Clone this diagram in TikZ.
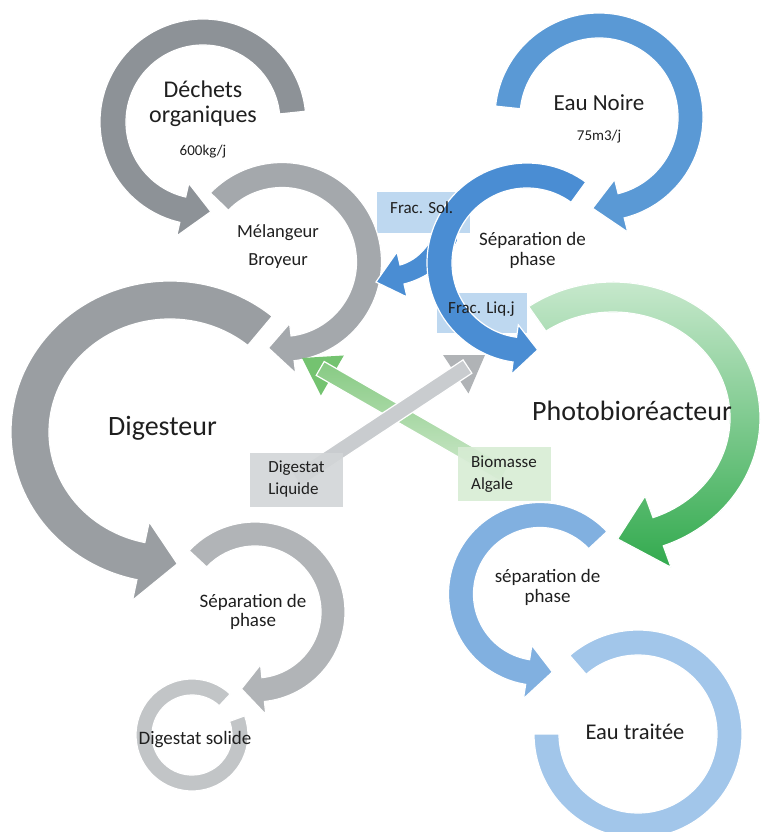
\documentclass[tikz,border=0pt]{standalone}
\usepackage{fontspec}
\setmainfont{Carlito}
\usetikzlibrary{calc}

\definecolor{greyA}{RGB}{141,146,151}
\definecolor{greyB}{RGB}{164,168,172}
\definecolor{greyC}{RGB}{154,158,162}
\definecolor{greyD}{RGB}{177,180,183}
\definecolor{greyE}{RGB}{194,197,199}
\definecolor{blueA}{RGB}{90,153,213}
\definecolor{blueB}{RGB}{74,141,211}
\definecolor{blueC}{RGB}{129,176,224}
\definecolor{blueD}{RGB}{162,198,234}
\definecolor{greenA}{RGB}{208,236,212}
\definecolor{greenB}{RGB}{50,170,78}
\definecolor{fracbox}{RGB}{190,216,240}
\definecolor{liqbox}{RGB}{210,213,215}
\definecolor{algbox}{RGB}{215,236,212}
\definecolor{liqshaft}{RGB}{201,204,207}
\definecolor{liqhead}{RGB}{176,179,182}
\definecolor{algshaft}{RGB}{178,219,174}
\definecolor{alghead}{RGB}{116,195,112}

% circular band with head: centre, x/y mid radius, half band, tail angle, band end, tip angle, head half width, options
\newcommand{\ringarrow}[9]{%
  \pgfmathsetmacro{\rxo}{#2+#4}\pgfmathsetmacro{\ryo}{#3+#4}%
  \pgfmathsetmacro{\rxi}{#2-#4}\pgfmathsetmacro{\ryi}{#3-#4}%
  \pgfmathsetmacro{\rxh}{#2+#8}\pgfmathsetmacro{\ryh}{#3+#8}%
  \pgfmathsetmacro{\rxl}{#2-#8}\pgfmathsetmacro{\ryl}{#3-#8}%
  \path[#9] ($(#1)+(#5:{\rxo} and {\ryo})$)
    arc[start angle=#5, end angle=#6, x radius=\rxo, y radius=\ryo]
    -- ($(#1)+(#6:{\rxh} and {\ryh})$) -- ($(#1)+(#7:{#2} and {#3})$)
    -- ($(#1)+(#6:{\rxl} and {\ryl})$) -- ($(#1)+(#6:{\rxi} and {\ryi})$)
    arc[start angle=#6, end angle=#5, x radius=\rxi, y radius=\ryi] -- cycle;
}

\begin{document}
\begin{tikzpicture}[x=1pt, y=1pt, yscale=-1,
    ringpart/.style={fill=#1, draw=white, line width=1.2pt},
    greenshade/.style={top color=greenA, bottom color=greenB},
    lbl/.style 2 args={font=\fontsize{#1}{#2}\selectfont, align=center, text=black!88, inner sep=0pt},
    tag/.style={font=\fontsize{17}{22}\selectfont, align=left, text=black!88, inner sep=0pt},
    tagbox/.style={fill=#1, fill opacity=0.9, text opacity=1, minimum width=93pt, minimum height=54pt}
  ]
  \useasboundingbox (0,0) rectangle (761,832);

  \coordinate (csolid) at (192,735);
  \coordinate (csepL) at (255,612);
  \coordinate (cdig) at (170,432);
  \coordinate (cdech) at (203,122);
  \coordinate (cmel) at (282,262);
  \coordinate (ctrait) at (638,734);
  \coordinate (csepR) at (540,594);
  \coordinate (cnoire) at (599,117);
  \coordinate (cphoto) at (613,418);
  \coordinate (csepT) at (527,263);

  % boxes under the blue arc
  \fill[fracbox] (377,192) rectangle (470,233);
  \fill[fracbox] (437,293) rectangle (527,333);

  \foreach \ctr/\rx/\ry/\bw/\ta/\tb/\tc/\hw/\col in {
      csolid/48/48/8/-20/313/313/8/greyE,
      csepL/78/78/12/-137/84/100/25/greyD,
      cdig/140/132/19/-50/-258/-273/40/greyC,
      cdech/90/90/13/-6/-257/-275/27/greyA,
      cmel/87/87/12.5/-136/83/99/25/greyB,
      ctrait/91.5/91.5/12.5/180/-131/-131/12.5/blueD,
      csepR/79/79/12.5/-43/-261/-279/27/blueC,
      cnoire/91.5/91.5/12.5/-174/76/94/27/blueA} {
    \ringarrow{\ctr}{\rx}{\ry}{\bw}{\ta}{\tb}{\tc}{\hw}{ringpart=\col}
  }
  \ringarrow{cphoto}{132}{121}{15}{-125}{70}{88}{38}{ringpart=greenB, greenshade}

  % Frac. Sol. branch
  \path[ringpart=blueB] (443,214) .. controls (432,245) and (418,260) .. (400,265)
    -- (397,252) -- (376,282) -- (407,297) -- (404,284)
    .. controls (428,278) and (448,262) .. (458,240) -- cycle;
  \ringarrow{csepT}{87.5}{87.5}{12.5}{-54}{-262}{-277}{25}{ringpart=blueB}

  % straight arrows
  \coordinate (algstart) at (504,474);
  \coordinate (algtip) at (302,358);
  \coordinate (algbase) at ($(algtip)!35pt!(algstart)$);
  \coordinate (algend) at ($(algtip)!21pt!(algstart)$);
  \fill[alghead] (algtip) -- ($(algbase)!23pt!90:(algtip)$) -- ($(algbase)!23pt!-90:(algtip)$) -- cycle;
  \path[draw=white, line width=1.2pt, top color=alghead!70!algshaft, bottom color=algshaft!60!white]
    ($(algstart)!8pt!90:(algend)$) -- ($(algend)!8pt!-90:(algstart)$)
    -- ($(algend)!8pt!90:(algstart)$) -- ($(algstart)!8pt!-90:(algend)$) -- cycle;

  \coordinate (liqstart) at (296.5,479.5);
  \coordinate (liqtip) at (485,355);
  \coordinate (liqbase) at ($(liqtip)!35pt!(liqstart)$);
  \coordinate (liqend) at ($(liqtip)!21pt!(liqstart)$);
  \fill[liqhead] (liqtip) -- ($(liqbase)!23pt!90:(liqtip)$) -- ($(liqbase)!23pt!-90:(liqtip)$) -- cycle;
  \path[draw=white, line width=1.2pt, fill=liqshaft]
    ($(liqstart)!8pt!90:(liqend)$) -- ($(liqend)!8pt!-90:(liqstart)$)
    -- ($(liqend)!8pt!90:(liqstart)$) -- ($(liqstart)!8pt!-90:(liqend)$) -- cycle;

  \node[tag, tagbox=liqbox] (digliq) at (liqstart) {Digestat\\Liquide};
  \node[tag, tagbox=algbox] (biomasse) at (algstart) {Biomasse\\Algale};

  % labels
  \node[lbl={24}{25}] (dechets) at (203,103.5) {Déchets\\organiques};
  \node[lbl={15}{15}] (dechrate) at (203,151.5) {600kg/j};
  \node[lbl={23}{23}] (eaunoire) at (599,102.5) {Eau Noire};
  \node[lbl={15}{15}] (eaurate) at (599,136.5) {75m3/j};
  \node[lbl={18.5}{28}] (melangeur) at (278,246.5) {Mélangeur\\Broyeur};
  \node[lbl={19}{20}] (septop) at (532.5,250.5) {Séparation de\\phase};
  \node[lbl={28}{28}] (digesteur) at (162.5,428) {Digesteur};
  \node[lbl={28}{28}] (photobio) at (632,411) {Photobioréacteur};
  \node[lbl={19}{19.5}] (sepleft) at (253,612) {Séparation de\\phase};
  \node[lbl={19}{20}] (sepright) at (547.5,587.5) {séparation de\\phase};
  \node[lbl={19}{19}] (digsolide) at (195,739.5) {Digestat solide};
  \node[lbl={22.5}{22.5}] (eautraitee) at (635,732) {Eau traitée};
  \node[tag, anchor=base west] (fracsol) at (390,213) {Frac. Sol.};
  \node[tag, anchor=base west] (fracliq) at (448,313) {Frac. Liq.j};
\end{tikzpicture}
\end{document}
